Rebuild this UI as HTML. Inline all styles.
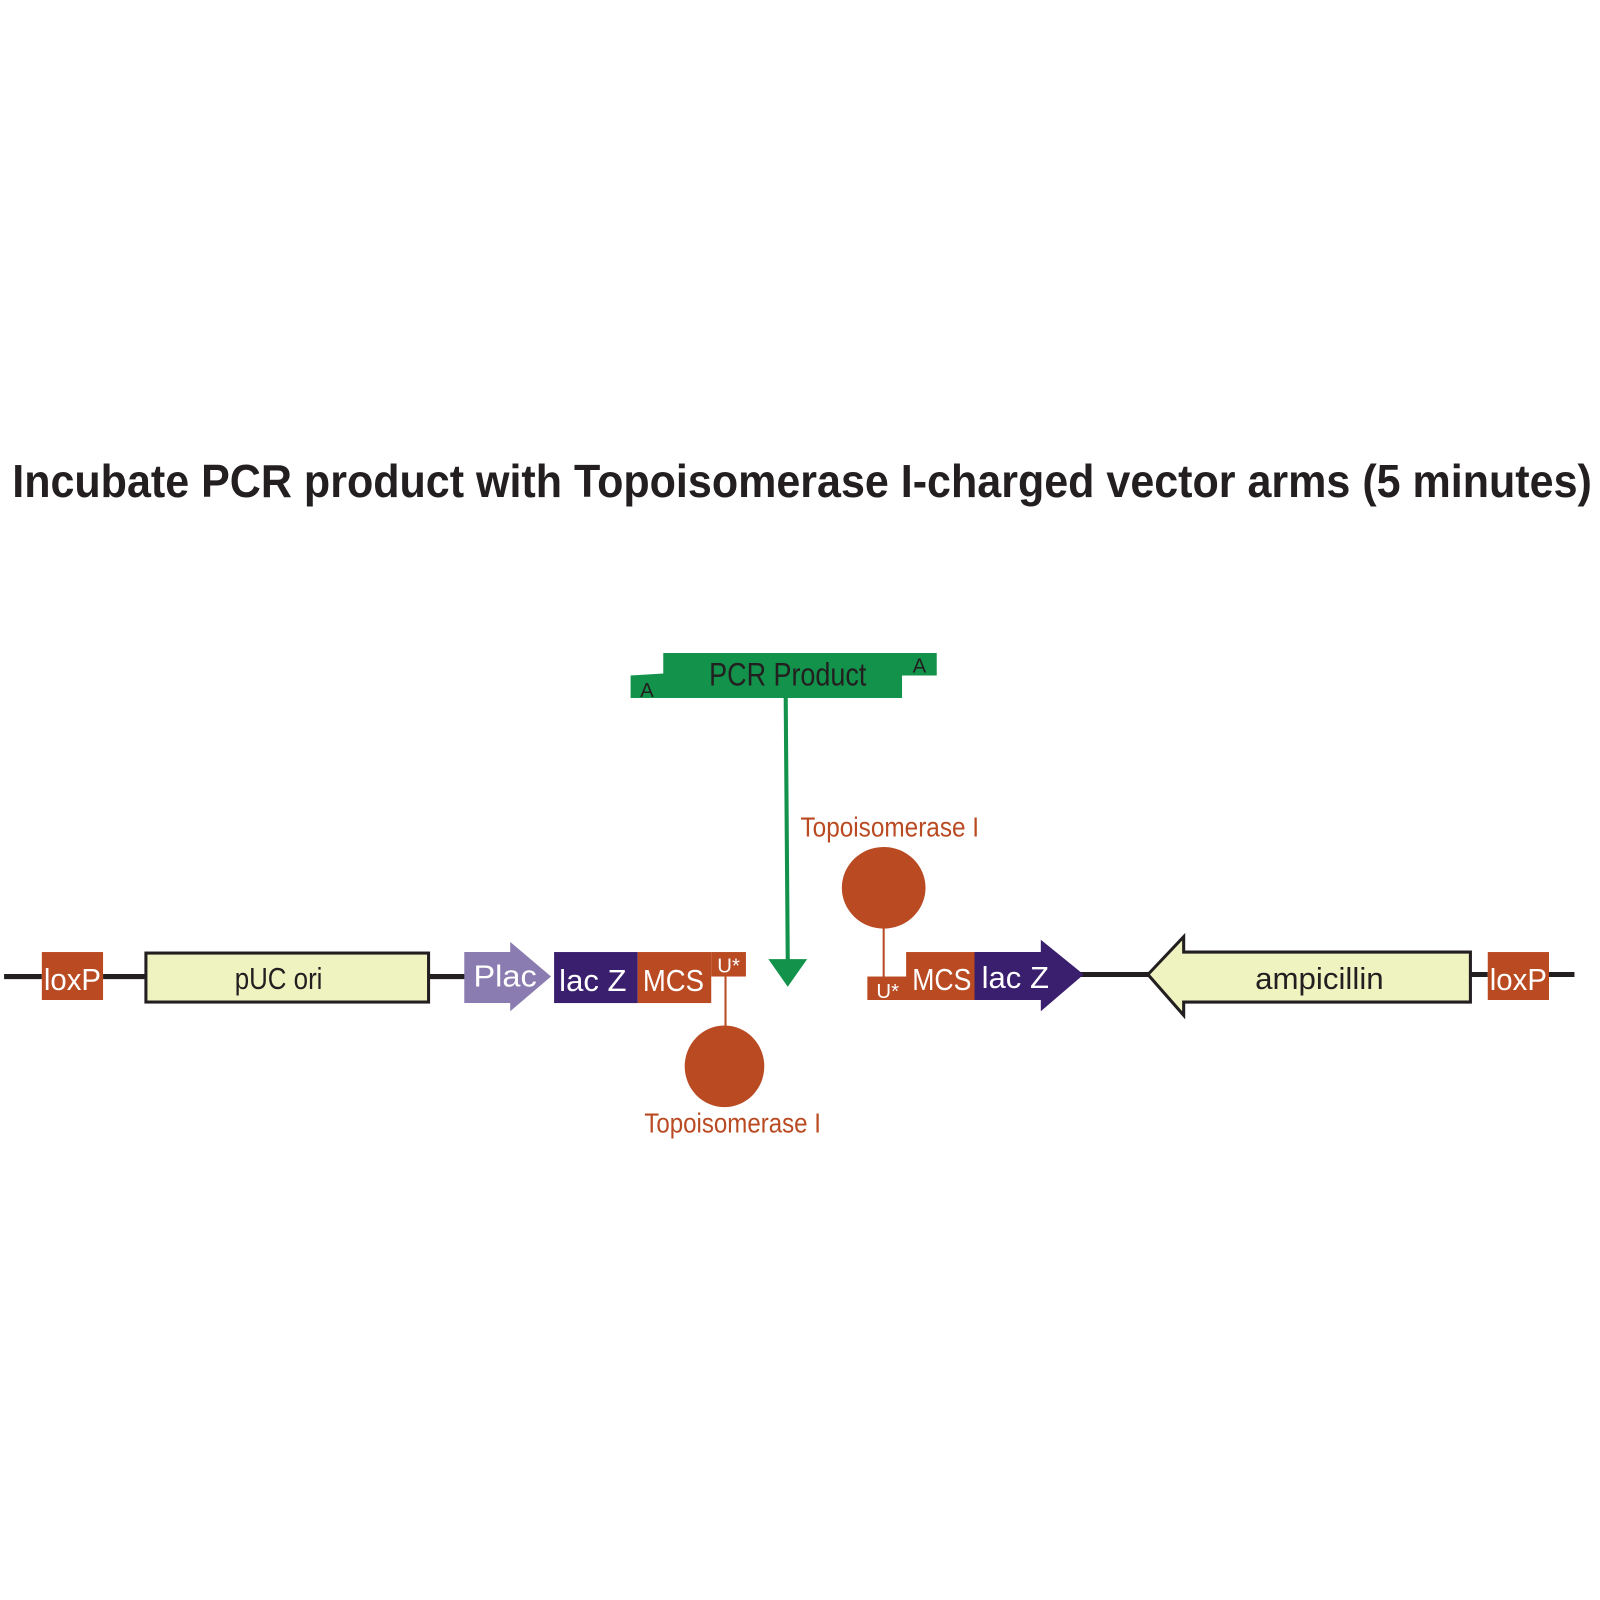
<!DOCTYPE html>
<html><head><meta charset="utf-8"><style>
html,body{margin:0;padding:0;background:#fff;}
svg{display:block;}
text{font-family:"Liberation Sans Narrow","Liberation Sans",sans-serif;}
</style></head><body>
<svg width="1600" height="1600" viewBox="0 0 1568 1568" xmlns="http://www.w3.org/2000/svg">
<text x="12" y="487" font-family="Liberation Sans, sans-serif" font-weight="bold" font-size="45" fill="#231f20" textLength="1548" lengthAdjust="spacingAndGlyphs" style="font-family:'Liberation Sans',sans-serif">Incubate PCR product with Topoisomerase I-charged vector arms (5 minutes)</text>

<!-- backbone -->
<g stroke="#231f20" stroke-width="5">
<line x1="4" y1="957" x2="41" y2="957"/>
<line x1="101" y1="957" x2="143" y2="957"/>
<line x1="420" y1="957" x2="456" y2="957"/>
<line x1="1058" y1="955" x2="1126" y2="955"/>
<line x1="1441" y1="955" x2="1458" y2="955"/>
<line x1="1518" y1="955" x2="1543" y2="955"/>
</g>

<!-- left -->
<rect x="41" y="933" width="60" height="47" fill="#b94a22"/>
<text x="71" y="970" font-size="30" fill="#fff" text-anchor="middle" textLength="56" lengthAdjust="spacingAndGlyphs">loxP</text>
<rect x="143" y="934" width="277" height="48" fill="#eef3c0" stroke="#231f20" stroke-width="3"/>
<text x="273" y="969" font-size="30" fill="#231f20" text-anchor="middle" textLength="86" lengthAdjust="spacingAndGlyphs">pUC ori</text>
<polygon points="455,933 500,933 500,923 540,957 500,991 500,983 455,983" fill="#8a7cb0"/>
<text x="495" y="967" font-size="30" fill="#fff" text-anchor="middle" textLength="62" lengthAdjust="spacingAndGlyphs">Plac</text>
<rect x="543" y="933" width="82" height="50" fill="#3a1f6e"/>
<text x="581" y="971" font-size="30" fill="#fff" text-anchor="middle" textLength="66" lengthAdjust="spacingAndGlyphs">lac Z</text>
<rect x="625" y="933" width="72" height="50" fill="#b94a22"/>
<text x="660" y="971" font-size="30" fill="#fff" text-anchor="middle" textLength="60" lengthAdjust="spacingAndGlyphs">MCS</text>
<rect x="697" y="933" width="34" height="24" fill="#b94a22"/>
<text x="714" y="953" font-size="20" fill="#fff" text-anchor="middle">U*</text>
<line x1="711" y1="957" x2="711" y2="1008" stroke="#b94a22" stroke-width="2"/>
<ellipse cx="710" cy="1045" rx="39" ry="40" fill="#b94a22"/>
<text x="718" y="1110" font-size="27" fill="#b94a22" text-anchor="middle" textLength="173" lengthAdjust="spacingAndGlyphs">Topoisomerase I</text>

<!-- PCR product -->
<polygon points="650,640 918,640 918,662 884,662 884,684 618,684 618,662 650,660" fill="#12924a"/>
<text x="772" y="672" font-size="32" fill="#231f20" text-anchor="middle" textLength="154" lengthAdjust="spacingAndGlyphs">PCR Product</text>
<text x="634" y="683" font-size="20" fill="#231f20" text-anchor="middle">A</text>
<text x="901" y="659" font-size="20" fill="#231f20" text-anchor="middle">A</text>
<line x1="770" y1="684" x2="772" y2="942" stroke="#12924a" stroke-width="4"/>
<polygon points="753,940 791,940 772,967" fill="#12924a"/>

<!-- right -->
<text x="872" y="820" font-size="27" fill="#b94a22" text-anchor="middle" textLength="175" lengthAdjust="spacingAndGlyphs">Topoisomerase I</text>
<ellipse cx="866" cy="870" rx="41" ry="40" fill="#b94a22"/>
<line x1="866" y1="908" x2="866" y2="960" stroke="#b94a22" stroke-width="2"/>
<rect x="850" y="957" width="40" height="23" fill="#b94a22"/>
<text x="870" y="978" font-size="20" fill="#fff" text-anchor="middle">U*</text>
<rect x="888" y="933" width="68" height="47" fill="#b94a22"/>
<text x="923" y="970" font-size="30" fill="#fff" text-anchor="middle" textLength="58" lengthAdjust="spacingAndGlyphs">MCS</text>
<polygon points="955,933 1020,933 1020,921 1062,955 1020,991 1020,980 955,980" fill="#3a1f6e"/>
<text x="995" y="968" font-size="30" fill="#fff" text-anchor="middle" textLength="66" lengthAdjust="spacingAndGlyphs">lac Z</text>
<polygon points="1125,955 1160,918 1160,933 1441,933 1441,982 1160,982 1160,995" fill="#eef3c0" stroke="#231f20" stroke-width="3"/>
<text x="1293" y="969" font-size="30" fill="#231f20" text-anchor="middle" textLength="126" lengthAdjust="spacingAndGlyphs">ampicillin</text>
<rect x="1458" y="933" width="60" height="47" fill="#b94a22"/>
<text x="1488" y="970" font-size="30" fill="#fff" text-anchor="middle" textLength="56" lengthAdjust="spacingAndGlyphs">loxP</text>
</svg>
</body></html>
